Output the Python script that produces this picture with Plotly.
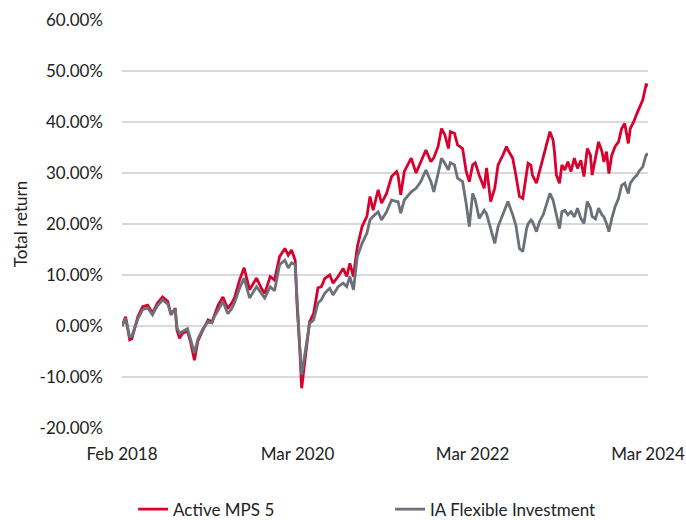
import plotly.graph_objects as go

dates = [
    "2018-02-28", "2018-03-15", "2018-04-01", "2018-04-10", "2018-05-05", "2018-05-25",
    "2018-06-15", "2018-07-05", "2018-07-26", "2018-08-16", "2018-09-07", "2018-09-20",
    "2018-10-08", "2018-10-15", "2018-10-26", "2018-11-08", "2018-11-28", "2018-12-10",
    "2018-12-27", "2019-01-10", "2019-01-31", "2019-02-22", "2019-03-10", "2019-03-20",
    "2019-04-05", "2019-04-25", "2019-05-15", "2019-05-30", "2019-06-12", "2019-07-03",
    "2019-07-22", "2019-08-14", "2019-09-12", "2019-10-02", "2019-10-16", "2019-11-08",
    "2019-11-26", "2019-12-17", "2020-01-08", "2020-01-22", "2020-02-05", "2020-02-20",
    "2020-02-28", "2020-03-10", "2020-03-18", "2020-03-28", "2020-04-08", "2020-04-20",
    "2020-05-07", "2020-05-25", "2020-06-08", "2020-06-22", "2020-07-13", "2020-07-27",
    "2020-08-17", "2020-09-07", "2020-09-22", "2020-10-05", "2020-10-20", "2020-11-05",
    "2020-11-25", "2020-12-15", "2020-12-28", "2021-01-10", "2021-01-31", "2021-02-14",
    "2021-03-07", "2021-03-28", "2021-04-18", "2021-04-24", "2021-05-05", "2021-05-20",
    "2021-06-18", "2021-07-08", "2021-07-28", "2021-08-18", "2021-09-08", "2021-09-20",
    "2021-10-08", "2021-10-22", "2021-11-05", "2021-11-20", "2021-11-28", "2021-12-15",
    "2021-12-28", "2022-01-18", "2022-02-02", "2022-02-15", "2022-03-01", "2022-03-12",
    "2022-03-28", "2022-04-18", "2022-04-28", "2022-05-15", "2022-06-01", "2022-06-15",
    "2022-07-05", "2022-07-20", "2022-07-26", "2022-08-15", "2022-08-28", "2022-09-12",
    "2022-09-26", "2022-10-12", "2022-10-18", "2022-10-30", "2022-11-05", "2022-11-22",
    "2022-12-05", "2022-12-20", "2023-01-03", "2023-01-17", "2023-01-30", "2023-02-05",
    "2023-02-13", "2023-02-26", "2023-03-08", "2023-03-20", "2023-04-02", "2023-04-15",
    "2023-04-29", "2023-05-12", "2023-05-26", "2023-06-08", "2023-06-22", "2023-07-05",
    "2023-07-12", "2023-07-26", "2023-08-08", "2023-08-22", "2023-08-30", "2023-09-10",
    "2023-09-20", "2023-10-02", "2023-10-16", "2023-10-30", "2023-11-12", "2023-11-25",
    "2023-12-02", "2023-12-10", "2023-12-18", "2024-01-02", "2024-01-15", "2024-01-23",
    "2024-02-08", "2024-02-22", "2024-03-01",
]

# Total return, percent
active_mps5 = [
    0.0, 1.8, -2.7, -2.5, 1.8, 3.8,
    4.1, 2.5, 4.5, 5.7, 4.8, 2.2,
    3.5, -0.8, -2.4, -1.4, -1.0, -3.0,
    -6.7, -3.0, -0.8, 1.2, 0.8, 2.2,
    4.1, 5.7, 3.4, 4.4, 5.5, 9.0,
    11.4, 7.1, 9.4, 7.4, 6.4, 9.7,
    9.0, 13.6, 15.2, 13.9, 14.9, 12.9,
    4.1, -4.3, -12.2, -8.2, -3.7, 0.8,
    2.5, 7.5, 7.7, 9.3, 10.0, 8.4,
    9.7, 11.3, 9.7, 12.3, 9.7, 15.5,
    19.5, 21.5, 25.4, 22.7, 26.7, 24.1,
    26.0, 29.3, 30.3, 29.5, 25.7, 30.3,
    32.9, 30.0, 32.2, 34.5, 32.2, 33.0,
    35.2, 38.7, 37.5, 34.8, 38.1, 37.8,
    35.5, 34.8, 30.3, 28.3, 31.6, 32.0,
    29.6, 27.0, 31.0, 24.4, 27.0, 31.6,
    33.5, 35.2, 34.5, 32.9, 29.6, 25.4,
    25.0, 29.6, 31.9, 31.5, 29.6, 28.0,
    30.3, 33.2, 35.5, 38.1, 36.5, 34.2,
    29.6, 28.0, 31.6, 30.6, 32.2, 30.3,
    32.9, 30.9, 32.5, 29.3, 34.8, 33.5,
    29.6, 32.9, 36.1, 34.2, 32.2, 34.2,
    29.9, 33.5, 35.2, 36.1, 38.7, 39.7,
    37.8, 35.8, 38.7, 40.1, 41.7, 42.7,
    44.3, 47.3, 47.2,
]

ia_flexible = [
    0.0, 1.5, -2.1, -2.0, 1.4, 3.2,
    3.6, 2.2, 4.0, 5.1, 4.3, 2.5,
    3.3, -0.3, -1.4, -1.0, -0.5, -2.5,
    -5.3, -2.6, -0.6, 0.9, 0.6, 1.8,
    3.1, 4.8, 2.4, 3.3, 4.5, 7.4,
    9.4, 5.5, 7.7, 6.4, 5.5, 7.7,
    6.9, 12.0, 12.9, 11.4, 12.4, 12.0,
    4.1, -4.0, -9.6, -6.3, -3.7, 0.5,
    1.2, 4.5, 5.1, 6.4, 7.4, 6.1,
    7.7, 8.4, 7.7, 9.7, 7.1, 13.6,
    16.2, 18.2, 20.8, 21.5, 22.4, 20.8,
    22.4, 24.7, 24.4, 24.4, 22.1, 24.7,
    26.3, 27.0, 28.3, 30.6, 28.3, 26.3,
    29.9, 32.9, 31.9, 30.6, 32.0, 31.6,
    29.0, 28.3, 24.0, 19.5, 26.0, 24.7,
    21.1, 22.7, 22.0, 19.0, 16.2, 19.5,
    21.8, 23.5, 24.4, 21.8, 19.8, 15.2,
    14.6, 19.1, 20.0, 20.8, 20.5, 18.5,
    20.5, 21.8, 23.7, 26.0, 24.7, 23.5,
    22.0, 19.1, 22.4, 22.7, 21.8, 22.4,
    21.4, 23.1, 21.1, 20.1, 24.4, 23.1,
    21.5, 21.0, 23.1, 21.8, 21.4, 20.1,
    18.5, 21.1, 23.4, 25.0, 27.6, 28.0,
    27.0, 26.0, 28.0, 29.0, 29.6, 30.3,
    31.2, 33.5, 33.8,
]

series_names = ["Active MPS 5", "IA Flexible Investment"]
series_colors = ["#d7002f", "#6b7179"]

tick_dates = ["2018-02-28", "2020-03-01", "2022-03-01", "2024-03-01"]
tick_labels = ["Feb 2018", "Mar 2020", "Mar 2022", "Mar 2024"]
y_ticks = [-20, -10, 0, 10, 20, 30, 40, 50, 60]
y_tick_labels = ["-20.00%", "-10.00%", "0.00%", "10.00%", "20.00%",
                 "30.00%", "40.00%", "50.00%", "60.00%"]

FONT = "Lato, 'Source Sans Pro', sans-serif"

fig = go.Figure()
for name, vals, col in zip(series_names, [active_mps5, ia_flexible], series_colors):
    fig.add_trace(go.Scatter(
        x=dates, y=[v / 100 for v in vals], mode="lines", name=name,
        line=dict(color=col, width=2.8),
    ))

fig.update_layout(
    width=686, height=520,
    margin=dict(l=122, r=38, t=20, b=92, autoexpand=False),
    paper_bgcolor="white", plot_bgcolor="white",
    font=dict(family=FONT, size=17, color="#222222"),
    showlegend=True,
    legend=dict(
        orientation="h", xref="container", x=0.194, xanchor="left",
        yref="container", y=0.02, yanchor="middle",
        font=dict(size=17, color="#222222"),
        entrywidth=212, entrywidthmode="pixels",
    ),
    xaxis=dict(
        type="date", range=["2018-02-28", "2024-03-01"],
        tickvals=tick_dates, ticktext=tick_labels, automargin=False,
        showgrid=False, zeroline=False, showline=False, ticks="",
        tickfont=dict(size=17), ticklabelstandoff=14,
    ),
    yaxis=dict(
        range=[-0.2, 0.6], tickvals=[v / 100 for v in y_ticks], ticktext=y_tick_labels,
        showgrid=True, gridcolor="#d9d9d9", gridwidth=1.5, automargin=False,
        zeroline=False, showline=False, ticks="",
        tickfont=dict(size=17), ticklabelstandoff=18,
        title=dict(text="Total return", font=dict(size=17), standoff=7),
    ),
)

fig.write_html(
    "out.html",
    config={"displayModeBar": False},
    post_script="document.body.style.margin='0';document.body.style.overflow='hidden';",
)
